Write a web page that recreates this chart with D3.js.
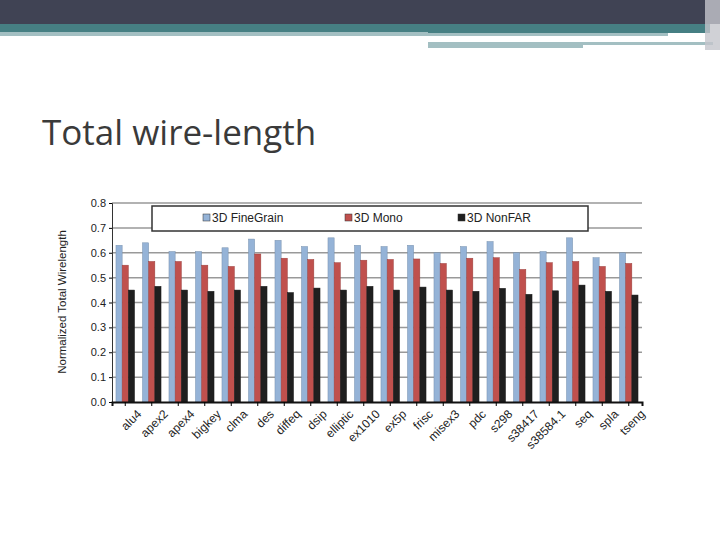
<!DOCTYPE html><html><head><meta charset="utf-8"><script src="https://cdn.jsdelivr.net/npm/d3@7"></script>
<style>body{margin:0;background:#fff}</style></head><body><svg id="c" width="720" height="540"></svg><script>
const categories=["alu4","apex2","apex4","bigkey","clma","des","diffeq","dsip","elliptic","ex1010","ex5p","frisc","misex3","pdc","s298","s38417","s38584.1","seq","spla","tseng"];
const seriesNames=["3D FineGrain","3D Mono","3D NonFAR"];
const fineGrain=[.63,.64,.605,.605,.62,.655,.65,.625,.66,.63,.625,.63,.6,.625,.645,.6,.605,.66,.58,.6];
const mono=[.55,.565,.565,.55,.545,.595,.578,.573,.56,.57,.573,.575,.557,.578,.58,.533,.56,.565,.545,.557];
const nonFar=[.45,.465,.45,.445,.45,.465,.44,.458,.45,.465,.45,.462,.45,.445,.457,.433,.447,.47,.445,.43];
const yTicks=[0,.1,.2,.3,.4,.5,.6,.7,.8];
const colors=["#95b3d7","#c0504d","#1f1f1f"];
const svg=d3.select("#c");
// header
svg.append("rect").attr("x",0).attr("y",0).attr("width",720).attr("height",24).attr("fill","#404354");
svg.append("rect").attr("x",0).attr("y",24).attr("width",710).attr("height",9).attr("fill","#467f83");
svg.append("rect").attr("x",0).attr("y",32).attr("width",428).attr("height",4).attr("fill","#a3bfc2");
svg.append("rect").attr("x",428).attr("y",33).attr("width",240).attr("height",3).attr("fill","#a3bfc2");
svg.append("rect").attr("x",428).attr("y",42).attr("width",155).attr("height",6).attr("fill","#a3bfc2");
svg.append("rect").attr("x",583).attr("y",42).attr("width",130).attr("height",3).attr("fill","#a3bfc2");
svg.append("rect").attr("x",705).attr("y",0).attr("width",15).attr("height",50).attr("fill","#c4c6cc").attr("opacity",0.8);
svg.append("text").attr("x",42).attr("y",145).attr("font-family","Open Sans, sans-serif").attr("font-size",35).attr("fill","#3a3a3a").text("Total wire-length");
const x0=112,x1=642,yB=402,yT=203;
const x=d3.scaleBand().domain(categories).range([x0,x1]).paddingInner(0.3).paddingOuter(0.15);
const xs=d3.scaleBand().domain(seriesNames).range([0,x.bandwidth()]);
const y=d3.scaleLinear().domain([0,.8]).range([yB,yT]);
const g=svg.append("g");
g.selectAll(".gl").data(yTicks.slice(1)).join("line").attr("x1",x0).attr("x2",x1).attr("y1",d=>y(d)).attr("y2",d=>y(d)).attr("stroke","#999").attr("stroke-width",1.5);
const data=[fineGrain,mono,nonFar];
data.forEach((arr,si)=>{
 g.selectAll(".b"+si).data(arr).join("rect").attr("x",(d,i)=>x(categories[i])+xs(seriesNames[si])).attr("width",xs.bandwidth()).attr("y",d=>y(d)).attr("height",d=>yB-y(d)).attr("fill",colors[si]).attr("stroke",d3.color(colors[si]).darker(0.6)).attr("stroke-width",0.5);
});
const ya=svg.append("g").attr("transform",`translate(${x0},0)`).call(d3.axisLeft(y).tickValues(yTicks).tickFormat(d3.format(".1f")).tickSize(3));
ya.selectAll("text").attr("font-family","Arial, Liberation Sans").attr("font-size",11).attr("fill","#222");
ya.select(".domain").attr("stroke","#333");
const xa=svg.append("g").attr("transform",`translate(0,${yB})`).call(d3.axisBottom(x).tickSize(4));
xa.select(".domain").attr("stroke","#111").attr("stroke-width",2);
xa.selectAll("text").attr("font-family","Arial, Liberation Sans").attr("font-size",12).attr("fill","#222").attr("text-anchor","end").attr("transform","translate(6,2) rotate(-45)").attr("dy","0.7em");
svg.append("text").attr("transform","translate(66,302) rotate(-90)").attr("text-anchor","middle").attr("font-family","Arial, Liberation Sans").attr("font-size",11.5).attr("fill","#222").text("Normalized Total Wirelength");
// legend
svg.append("rect").attr("x",152).attr("y",206).attr("width",436).attr("height",25).attr("fill","#fff").attr("stroke","#333").attr("stroke-width",1.5);
const lx=[203,345,458];
seriesNames.forEach((n,i)=>{
 svg.append("rect").attr("x",lx[i]).attr("y",214).attr("width",7).attr("height",7).attr("fill",colors[i]).attr("stroke","#333").attr("stroke-width",0.5);
 svg.append("text").attr("x",lx[i]+9).attr("y",222).attr("font-family","Arial, Liberation Sans").attr("font-size",12).attr("fill","#222").text(n);
});
</script></body></html>
